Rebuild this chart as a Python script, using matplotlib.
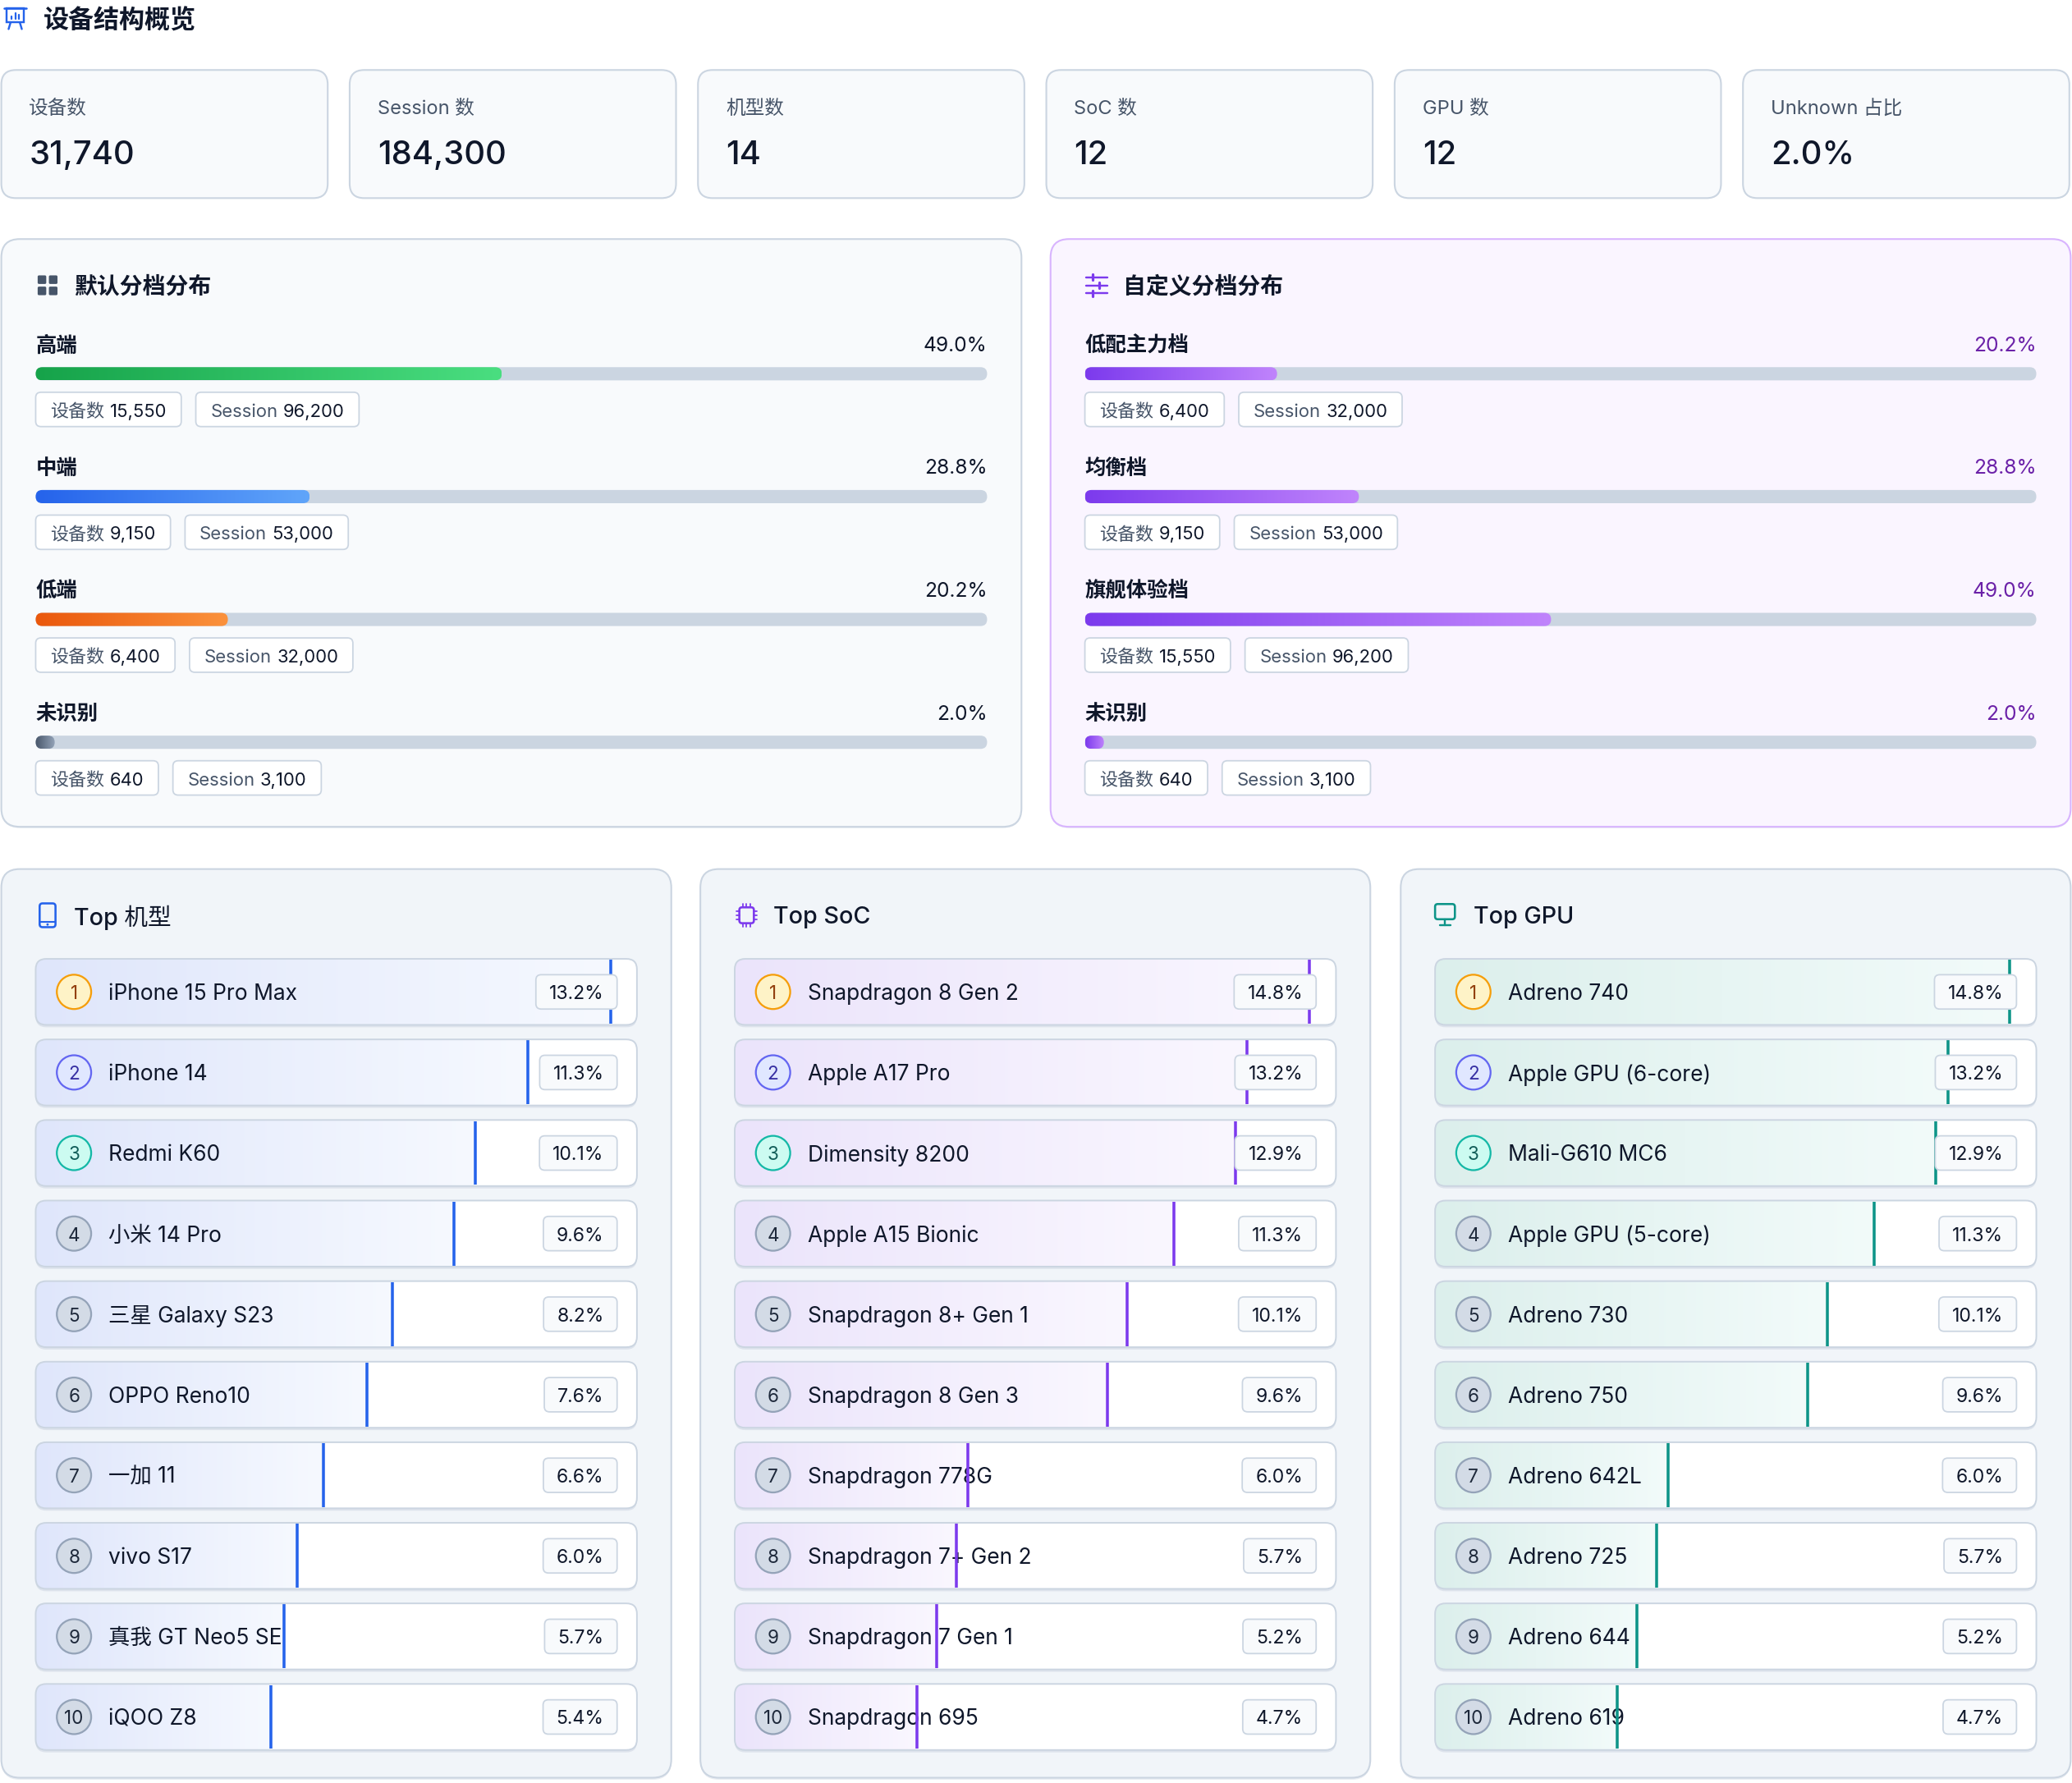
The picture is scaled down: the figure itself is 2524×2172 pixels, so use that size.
import numpy as np
import matplotlib
matplotlib.use('Agg')
import matplotlib.pyplot as plt
from matplotlib.patches import FancyBboxPatch, Circle, Rectangle
from matplotlib.colors import LinearSegmentedColormap

plt.rcParams['font.family'] = ['Inter', 'Noto Sans CJK SC', 'DejaVu Sans']

# ---------------- data ----------------
page_title = '设备结构概览'
stat_labels = ['设备数', 'Session 数', '机型数', 'SoC 数', 'GPU 数', 'Unknown 占比']
stat_values = ['31,740', '184,300', '14', '12', '12', '2.0%']

default_title = '默认分档分布'
default_tiers = ['高端', '中端', '低端', '未识别']
default_pct = [49.0, 28.8, 20.2, 2.0]
default_devices = [15550, 9150, 6400, 640]
default_sessions = [96200, 53000, 32000, 3100]

custom_title = '自定义分档分布'
custom_tiers = ['低配主力档', '均衡档', '旗舰体验档', '未识别']
custom_pct = [20.2, 28.8, 49.0, 2.0]
custom_devices = [6400, 9150, 15550, 640]
custom_sessions = [32000, 53000, 96200, 3100]

model_title = 'Top 机型'
top_models = ['iPhone 15 Pro Max', 'iPhone 14', 'Redmi K60', '小米 14 Pro', '三星 Galaxy S23',
              'OPPO Reno10', '一加 11', 'vivo S17', '真我 GT Neo5 SE', 'iQOO Z8']
model_pct = [13.2, 11.3, 10.1, 9.6, 8.2, 7.6, 6.6, 6.0, 5.7, 5.4]

soc_title = 'Top SoC'
top_soc = ['Snapdragon 8 Gen 2', 'Apple A17 Pro', 'Dimensity 8200', 'Apple A15 Bionic',
           'Snapdragon 8+ Gen 1', 'Snapdragon 8 Gen 3', 'Snapdragon 778G', 'Snapdragon 7+ Gen 2',
           'Snapdragon 7 Gen 1', 'Snapdragon 695']
soc_pct = [14.8, 13.2, 12.9, 11.3, 10.1, 9.6, 6.0, 5.7, 5.2, 4.7]

gpu_title = 'Top GPU'
top_gpu = ['Adreno 740', 'Apple GPU (6-core)', 'Mali-G610 MC6', 'Apple GPU (5-core)', 'Adreno 730',
           'Adreno 750', 'Adreno 642L', 'Adreno 725', 'Adreno 644', 'Adreno 619']
gpu_pct = [14.8, 13.2, 12.9, 11.3, 10.1, 9.6, 6.0, 5.7, 5.2, 4.7]

# ---------------- canvas ----------------
W, H = 1568, 1350
fig = plt.figure(figsize=(25.24, 21.72), dpi=100)
ax = fig.add_axes([0, 0, 1, 1])
ax.set_xlim(0, W)
ax.set_ylim(H, 0)
ax.axis('off')
fig.patch.set_facecolor('white')
PX = 2524 / W
PT = PX * 72 / 100
renderer = fig.canvas.get_renderer()

DARK = '#0f172a'
GRAY = '#475569'
BORDER = '#cbd5e1'
DY = 1.8  # visual centring offset for text


def fs(u):
    return u * PT


def txt(x, y, s, **kw):
    kw.setdefault('va', 'center')
    return ax.text(x, y + DY, s, **kw)


def rbox(x, y, w, h, r, fc, ec, lw=1.0, z=1):
    p = FancyBboxPatch((x, y), w, h, boxstyle=f'round,pad=0,rounding_size={r}',
                       fc=fc, ec=ec, lw=lw * PT, zorder=z)
    ax.add_patch(p)
    return p


def hgrad(x0, x1, y0, y1, c0, c1, clip, z):
    cmap = LinearSegmentedColormap.from_list('g', [c0, c1])
    im = ax.imshow(np.linspace(0, 1, 256)[None, :], cmap=cmap, extent=[x0, x1, y1, y0],
                   aspect='auto', interpolation='bilinear', zorder=z)
    im.set_clip_path(clip)


def twidth(t):
    return t.get_window_extent(renderer=renderer).width / PX


def line(xs, ys, c, lw, z=10):
    ax.plot(xs, ys, color=c, lw=lw * PT, zorder=z, solid_capstyle='round', solid_joinstyle='round')


def chip_left(x, yc, parts, size, h=26, pad=11, gap=4, z=5):
    cur = x + pad
    for s, col in parts:
        t = txt(cur, yc, s, fontsize=size, color=col, ha='left', zorder=z + 1)
        cur += twidth(t) + gap
    cur -= gap
    w = cur + pad - x
    rbox(x, yc - h / 2, w, h, 4, 'white', BORDER, lw=1.1, z=z)
    return x + w


# ---------------- icons ----------------
def icon_title():
    c = '#2563eb'
    line([3, 20], [6, 6], c, 1.6)
    ax.add_patch(Rectangle((5, 6), 13, 11, fc='none', ec=c, lw=1.5 * PT, zorder=10))
    line([9, 9], [12.5, 14.5], c, 1.4)
    line([11.5, 11.5], [10, 14.5], c, 1.4)
    line([14, 14], [11, 14.5], c, 1.4)
    line([8, 6.5], [17, 22], c, 1.5)
    line([15, 16.5], [17, 22], c, 1.5)


def icon_grid(x, y):
    c = GRAY
    s = 6.5
    for dx in (0, 8.5):
        for dy in (0, 8.5):
            rbox(x + dx, y - 7.5 + dy, s, s, 1, c, 'none', z=10)


def icon_sliders(x, y):
    c = '#7c3aed'
    for dy, kx in ((-6, 5), (0, 10), (6, 5)):
        line([x, x + 16], [y + dy, y + dy], c, 1.5)
        line([x + kx, x + kx], [y + dy - 2.2, y + dy + 2.2], c, 2.0)


def icon_phone(x, y):
    c = '#2563eb'
    rbox(x, y - 9, 12, 18, 2.2, 'none', c, lw=1.6, z=10)
    line([x + 0.5, x + 11.5], [y + 5, y + 5], c, 1.3)
    ax.add_patch(Circle((x + 6, y + 7), 0.9, fc=c, ec='none', zorder=11))


def icon_chip(x, y):
    c = '#7c3aed'
    rbox(x + 2.5, y - 6, 11, 12, 2, 'none', c, lw=1.6, z=10)
    for k in (-3, 0, 3):
        line([x + 8 + k, x + 8 + k], [y - 8.5, y - 6], c, 1.1)
        line([x + 8 + k, x + 8 + k], [y + 6, y + 8.5], c, 1.1)
        line([x, x + 2.5], [y + k, y + k], c, 1.1)
        line([x + 13.5, x + 16], [y + k, y + k], c, 1.1)


def icon_monitor(x, y):
    c = '#0d9488'
    rbox(x, y - 7.5, 15, 11.5, 2, 'none', c, lw=1.6, z=10)
    line([x + 7.5, x + 7.5], [y + 4, y + 8.5], c, 1.5)
    line([x + 3.5, x + 11.5], [y + 8.5, y + 8.5], c, 1.5)


# ---------------- header ----------------
icon_title()
txt(33, 14, page_title, fontsize=fs(19.3), weight='bold', color=DARK, ha='left')

# ---------------- stat cards ----------------
cw, cg = 247, 16.6
for i, (lab, val) in enumerate(zip(stat_labels, stat_values)):
    cx = 1 + i * (cw + cg)
    rbox(cx, 53, cw, 97, 11, '#f8fafc', BORDER, lw=1.3)
    txt(cx + 21, 81, lab, fontsize=fs(14.7), color=GRAY)
    txt(cx + 21, 116, val, fontsize=fs(24.8), color=DARK, weight='medium')


# ---------------- tier panels ----------------
def tier_panel(px, pw, bg, edge, title, icon_fn, labels, pcts, devs, sess, grads, pct_color):
    rbox(px, 182, pw, 445, 14, '#e9edf3', 'none', z=0.5)
    rbox(px, 181, pw, 445, 14, bg, edge, lw=1.3, z=1)
    icon_fn()
    txt(px + 55, 216, title, fontsize=fs(17.3), weight='bold', color=DARK)
    bx0 = px + 26
    bx1 = px + pw - 26
    for i, (lab, p, d, s) in enumerate(zip(labels, pcts, devs, sess)):
        y = 260 + 93 * i
        txt(bx0, y, lab, fontsize=fs(15.8), weight='bold', color=DARK)
        txt(bx1, y, f'{p:.1f}%', fontsize=fs(15.3), color=pct_color, ha='right')
        rbox(bx0, y + 18, bx1 - bx0, 10, 5, BORDER, 'none', z=2)
        fw = (bx1 - bx0) * p / 100
        fillp = rbox(bx0, y + 18, fw, 10, 5, 'none', 'none', z=3)
        c0, c1 = grads[i]
        hgrad(bx0, bx0 + fw, y + 18, y + 28, c0, c1, fillp, 3)
        cy = y + 50
        e = chip_left(bx0, cy, [('设备数', GRAY), (f'{d:,}', DARK)], fs(13.7))
        chip_left(e + 11, cy, [('Session', GRAY), (f'{s:,}', DARK)], fs(13.7))


default_grads = [('#16a34a', '#4ade80'), ('#2563eb', '#60a5fa'),
                 ('#ea580c', '#fb923c'), ('#475569', '#94a3b8')]
purple = ('#7c3aed', '#c084fc')
tier_panel(1, 772, '#f8fafc', BORDER, default_title, lambda: icon_grid(28.5, 216),
           default_tiers, default_pct, default_devices, default_sessions, default_grads, DARK)
tier_panel(795, 772, '#faf5ff', '#d8b4fe', custom_title, lambda: icon_sliders(822, 216),
           custom_tiers, custom_pct, custom_devices, custom_sessions, [purple] * 4, '#6b21a8')

# ---------------- top lists ----------------
rank_styles = {1: ('#fef3c7', '#f59e0b', '#92400e'),
               2: ('#e0e7ff', '#6366f1', '#3730a3'),
               3: ('#ccfbf1', '#14b8a6', '#115e59')}
other_rank = ('#d3dbe6', '#94a3b8', '#1e293b')


def top_panel(px, title, icon_fn, names, pcts, c0, c1, line_c):
    rbox(px, 659.5, 507, 688, 14, '#e9edf3', 'none', z=0.5)
    rbox(px, 658, 507, 688, 14, '#f1f5f9', BORDER, lw=1.3, z=1)
    icon_fn()
    txt(px + 55, 693, title, fontsize=fs(17.8), color=DARK, weight='medium')
    rx, rw = px + 26, 455
    mx = max(pcts)
    for i, (n, p) in enumerate(zip(names, pcts)):
        yc = 751 + 61 * i
        y0 = yc - 25
        rbox(rx, y0 + 1.8, rw, 50, 8, '#dde3ec', 'none', z=2)
        row = rbox(rx, y0, rw, 50, 8, 'white', 'none', z=3)
        bx = rx + rw * p / mx * 0.956
        hgrad(rx, bx, y0, y0 + 50, c0, c1, row, 4)
        txt(px + 81, yc, n, fontsize=fs(16.4), color=DARK, zorder=6)
        ax.plot([bx, bx], [y0 + 0.8, y0 + 49.2], color=line_c, lw=2.2 * PT, zorder=7,
                solid_capstyle='butt')
        rbox(rx, y0, rw, 50, 8, 'none', BORDER, lw=1.2, z=7.5)
        fc, ec, tc = rank_styles.get(i + 1, other_rank)
        ax.add_patch(Circle((px + 55, yc), 13, fc=fc, ec=ec, lw=1.4 * PT, zorder=8))
        txt(px + 55, yc, str(i + 1), fontsize=fs(14), color=tc, ha='center', zorder=9)
        t = txt(px + 466 - 10, yc, f'{p:.1f}%', ha='right', fontsize=fs(14.3),
                color=DARK, zorder=9)
        w = twidth(t) + 20
        rbox(px + 466 - w, yc - 13, w, 26, 4, '#f8fafc', BORDER, lw=1.1, z=8.5)


top_panel(1, model_title, lambda: icon_phone(30, 693), top_models, model_pct,
          '#dfe6fb', '#f6f9ff', '#2563eb')
top_panel(530, soc_title, lambda: icon_chip(557, 693), top_soc, soc_pct,
          '#ebe4fb', '#faf7ff', '#7c3aed')
top_panel(1060, gpu_title, lambda: icon_monitor(1086, 692), top_gpu, gpu_pct,
          '#dcefec', '#f2fbfa', '#0d9488')

ax.set_xlim(0, W)
ax.set_ylim(H, 0)
fig.savefig('out.png', dpi=100, facecolor='white')
